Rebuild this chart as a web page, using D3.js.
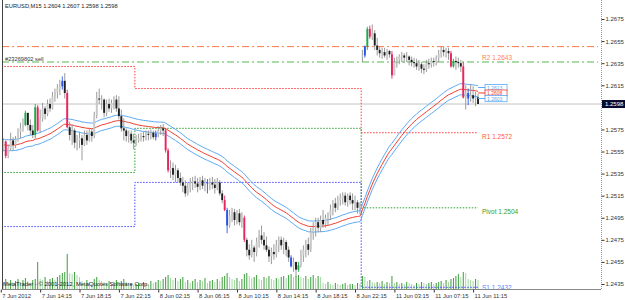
<!DOCTYPE html>
<html><head><meta charset="utf-8">
<script src="https://cdn.jsdelivr.net/npm/d3@7"></script>
<style>html,body{margin:0;padding:0;background:#fff;}svg{display:block;}</style>
</head><body>
<svg id="c" width="625" height="300"></svg>
<script>
(function(){
// ---------- DATA (EURUSD M15) ----------
const firstOpen = 1.2560;
const gapOpens = [[147, 1.2641]];
const closes = [
1.2556,1.2564,1.2551,1.2558,1.2565,1.2561,1.2566,1.2573,1.2576,1.2579,
1.2590,1.2579,1.2574,1.2570,1.2595,1.2574,1.2585,1.2594,1.2589,1.2598,
1.2594,1.2605,1.2609,1.2612,1.2614,1.2619,1.2608,1.2577,1.2570,1.2574,
1.2563,1.2565,1.2567,1.2561,1.2570,1.2565,1.2573,1.2569,1.2588,1.2603,
1.2602,1.2602,1.2590,1.2598,1.2594,1.2599,1.2602,1.2594,1.2587,1.2576,
1.2574,1.2569,1.2571,1.2565,1.2563,1.2565,1.2567,1.2569,1.2568,1.2571,
1.2570,1.2572,1.2568,1.2571,1.2574,1.2576,1.2574,1.2556,1.2538,1.2540,
1.2534,1.2538,1.2531,1.2527,1.2524,1.2517,1.2522,1.2527,1.2528,1.2526,
1.2523,1.2529,1.2524,1.2526,1.2527,1.2527,1.2525,1.2522,1.2527,1.2517,
1.2511,1.2502,1.2488,1.2497,1.2500,1.2493,1.2499,1.2491,1.2495,1.2475,
1.2466,1.2461,1.2468,1.2464,1.2473,1.2479,1.2475,1.2470,1.2466,1.2460,
1.2464,1.2462,1.2470,1.2475,1.2470,1.2473,1.2466,1.2459,1.2451,1.2455,
1.2448,1.2452,1.2461,1.2466,1.2471,1.2466,1.2482,1.2486,1.2491,1.2486,
1.2493,1.2489,1.2495,1.2497,1.2502,1.2508,1.2504,1.2511,1.2513,1.2515,
1.2509,1.2515,1.2511,1.2508,1.2509,1.2504,1.2506,1.2642,1.2650,1.2666,
1.2659,1.2662,1.2651,1.2647,1.2644,1.2645,1.2642,1.2646,1.2643,1.2624,
1.2636,1.2638,1.2641,1.2642,1.2640,1.2641,1.2638,1.2636,1.2635,1.2632,
1.2634,1.2630,1.2629,1.2635,1.2634,1.2637,1.2636,1.2640,1.2643,1.2647,
1.2645,1.2646,1.2644,1.2632,1.2637,1.2636,1.2635,1.2632,1.2604,1.2608,
1.2603,1.2606,1.2603,1.2604,1.2598];
const highs = [
1.2565,1.2567,1.2565,1.2561,1.2572,1.2568,1.2569,1.2576,1.2581,1.2585,
1.2592,1.2588,1.2584,1.2579,1.2598,1.2597,1.2593,1.2599,1.2596,1.2602,
1.2603,1.2609,1.2612,1.2616,1.2620,1.2623,1.2626,1.2611,1.2582,1.2579,
1.2576,1.2570,1.2573,1.2570,1.2574,1.2574,1.2576,1.2576,1.2591,1.2609,
1.2612,1.2606,1.2603,1.2602,1.2603,1.2602,1.2605,1.2606,1.2605,1.2593,
1.2585,1.2576,1.2574,1.2574,1.2571,1.2570,1.2571,1.2572,1.2573,1.2574,
1.2574,1.2575,1.2574,1.2574,1.2578,1.2579,1.2580,1.2576,1.2558,1.2547,
1.2545,1.2543,1.2540,1.2536,1.2532,1.2529,1.2527,1.2531,1.2532,1.2533,
1.2531,1.2532,1.2533,1.2531,1.2530,1.2531,1.2532,1.2530,1.2531,1.2529,
1.2520,1.2515,1.2504,1.2502,1.2504,1.2503,1.2502,1.2503,1.2500,1.2497,
1.2477,1.2471,1.2475,1.2470,1.2477,1.2484,1.2488,1.2482,1.2478,1.2469,
1.2468,1.2471,1.2475,1.2478,1.2478,1.2477,1.2475,1.2469,1.2461,1.2459,
1.2455,1.2455,1.2466,1.2470,1.2475,1.2477,1.2486,1.2491,1.2495,1.2495,
1.2497,1.2502,1.2498,1.2500,1.2507,1.2511,1.2513,1.2515,1.2517,1.2518,
1.2518,1.2517,1.2518,1.2517,1.2515,1.2511,1.2509,1.2647,1.2651,1.2668,
1.2669,1.2670,1.2665,1.2658,1.2650,1.2649,1.2649,1.2648,1.2647,1.2646,
1.2640,1.2641,1.2643,1.2645,1.2644,1.2645,1.2642,1.2641,1.2640,1.2639,
1.2638,1.2636,1.2634,1.2638,1.2639,1.2640,1.2640,1.2642,1.2647,1.2650,
1.2650,1.2649,1.2649,1.2646,1.2639,1.2641,1.2640,1.2638,1.2636,1.2615,
1.2612,1.2616,1.2614,1.2609,1.2607];
const lows = [
1.2552,1.2555,1.2549,1.2549,1.2556,1.2556,1.2558,1.2564,1.2567,1.2573,
1.2578,1.2574,1.2570,1.2567,1.2567,1.2573,1.2572,1.2582,1.2584,1.2587,
1.2591,1.2593,1.2600,1.2603,1.2606,1.2611,1.2603,1.2576,1.2565,1.2561,
1.2558,1.2556,1.2558,1.2547,1.2560,1.2561,1.2564,1.2564,1.2567,1.2585,
1.2598,1.2593,1.2586,1.2587,1.2591,1.2590,1.2593,1.2591,1.2584,1.2573,
1.2565,1.2564,1.2563,1.2562,1.2557,1.2560,1.2563,1.2564,1.2564,1.2565,
1.2565,1.2566,1.2566,1.2565,1.2568,1.2570,1.2569,1.2554,1.2536,1.2531,
1.2529,1.2527,1.2527,1.2524,1.2518,1.2514,1.2515,1.2518,1.2520,1.2522,
1.2518,1.2520,1.2521,1.2519,1.2517,1.2520,1.2521,1.2517,1.2520,1.2515,
1.2508,1.2501,1.2481,1.2486,1.2491,1.2488,1.2489,1.2488,1.2486,1.2473,
1.2460,1.2457,1.2459,1.2455,1.2460,1.2468,1.2471,1.2466,1.2464,1.2455,
1.2453,1.2457,1.2459,1.2464,1.2466,1.2462,1.2460,1.2455,1.2450,1.2446,
1.2441,1.2446,1.2450,1.2455,1.2459,1.2461,1.2464,1.2475,1.2478,1.2482,
1.2482,1.2486,1.2486,1.2488,1.2493,1.2497,1.2500,1.2502,1.2506,1.2507,
1.2506,1.2505,1.2507,1.2502,1.2502,1.2499,1.2498,1.2636,1.2640,1.2647,
1.2657,1.2656,1.2647,1.2642,1.2640,1.2639,1.2640,1.2638,1.2640,1.2621,
1.2627,1.2631,1.2634,1.2636,1.2635,1.2636,1.2633,1.2632,1.2631,1.2629,
1.2628,1.2626,1.2625,1.2627,1.2630,1.2631,1.2632,1.2633,1.2636,1.2640,
1.2641,1.2640,1.2638,1.2631,1.2631,1.2629,1.2631,1.2627,1.2603,1.2593,
1.2597,1.2600,1.2599,1.2596,1.2598];
const volumes = [
160,120,200,140,180,120,160,200,140,180,220,160,120,180,200,
540,200,
180,240,160,200,220,180,240,
280,320,340,700,
320,300,340,280,240,
160,120,180,140,100,200,240,180,160,140,120,160,100,140,180,120,160,200,140,100,120,80,100,120,100,140,120,100,160,120,140,180,160,200,
240,280,220,
180,220,160,200,240,140,180,120,160,200,140,180,160,220,120,160,180,140,200,160,240,260,
320,
240,200,180,220,160,200,300,
320,260,220,240,280,200,180,240,220,260,200,
180,220,200,240,260,220,280,300,240,260,280,
240,220,260,200,240,280,220,260,240,
120,100,140,100,80,120,100,80,100,120,80,100,100,80,120,100,
260,240,
160,180,140,120,140,120,160,100,140,120,
260,
120,140,100,120,100,140,120,100,80,120,100,140,120,100,120,140,100,120,140,160,120,180,140,200,
220,260,300,240,340,320,
200,180,160,200,180];
// highlighted candles (bar index, kind)
const markedBars = [[0,"b"],[2,"r"],[10,"g"],[14,"g"],[15,"r"],[25,"b"],[27,"r"],[63,"b"],[67,"r"],[68,"r"],
  [84,"b"],[91,"r"],[92,"b"],[99,"r"],[118,"b"],[121,"g"],[148,"b"],[149,"g"],[150,"r"],[159,"r"],
  [183,"r"],[184,"g"],[188,"r"],[190,"b"]];
const timeTickBars = [0,16,32,48,64,80,96,112,128,144,160,176,192];
const timeLabels = ["7 Jun 2012","7 Jun 14:15","7 Jun 18:15","7 Jun 22:15","8 Jun 02:15","8 Jun 06:15",
  "8 Jun 10:15","8 Jun 14:15","8 Jun 18:15","8 Jun 22:15","11 Jun 03:15","11 Jun 07:15","11 Jun 11:15"];
const priceTicks = [1.2675,1.2655,1.2635,1.2615,1.2575,1.2555,1.2535,1.2515,1.2495,1.2475,1.2455,1.2435];
const dayStarts = [0,55,147];
const r1Levels = [1.2632,1.2612,1.2572];
const pivotLevels = [1.2536,1.2576,1.2504];
const s1Levels = [1.2487,1.2527,1.2432];
const levelTexts = [["R2",1.2643],["R1",1.2572],["Pivot",1.2504],["S1",1.2432]];
const orderStop = 1.2650, orderOpen = 1.2636;
const orderText = "#23269802 sell";
const maPeriod = 50, maSeed = 1.2561, envPct = 0.04;
const envLabels = [1.2613,1.2608,1.2603];
const bid = 1.2598;
const header = "EURUSD,M15  1.2604 1.2607 1.2598 1.2598";
const footer = "MetaTrader - \u00a9 2001-2012, MetaQuotes Software Corp.";

// ---------- SETUP ----------
const N = closes.length;
const opens = closes.map((c,i)=> i===0 ? firstOpen : closes[i-1]);
gapOpens.forEach(([i,v])=>opens[i]=v);
const svg = d3.select("#c");
const FONT = "'Liberation Sans', Arial, sans-serif";
const pL = 2, pR = 601, pB = 289, pT = 0;
const x = d3.scaleLinear().domain([0, N-1]).range([0.8, 0.8 + (N-1)*2.46]);
const y = d3.scaleLinear().domain([1.2435, 1.2675]).range([284, 19]);
const yv = d3.scaleLinear().domain([0, 1000]).range([pB, pB-50]);

svg.append("defs").append("clipPath").attr("id","clip")
  .append("rect").attr("x",pL).attr("y",pT).attr("width",pR-pL).attr("height",pB-pT+1);
const g = svg.append("g").attr("clip-path","url(#clip)");

// volumes
const volG = g.append("g");
volumes.forEach((v,i)=>{
  const up = i===0 || v >= volumes[i-1];
  volG.append("line").attr("x1",x(i)).attr("x2",x(i)).attr("y1",yv(0)).attr("y2",yv(v))
    .attr("stroke", up ? "#3a9d3a" : "#a3d9a3").attr("stroke-width",1);
});

// bid line
g.append("line").attr("x1",pL).attr("x2",pR).attr("y1",y(bid)).attr("y2",y(bid))
  .attr("stroke","#c4c4c4").attr("stroke-width",1);

// order lines
g.append("line").attr("x1",pL).attr("x2",pR-3).attr("y1",y(orderStop)).attr("y2",y(orderStop))
  .attr("stroke","#ff7a4a").attr("stroke-width",1).attr("stroke-dasharray","7,3,2,3");
g.append("line").attr("x1",pL).attr("x2",pR-3).attr("y1",y(orderOpen)).attr("y2",y(orderOpen))
  .attr("stroke","#8fd18f").attr("stroke-width",1.6).attr("stroke-dasharray","7,3,2,3");

// pivot step lines
function stepPts(levels){
  const pts=[];
  levels.forEach((v,k)=>{
    const b0 = k===0 ? -1 : dayStarts[k]-0.5;
    const b1 = k===levels.length-1 ? N-1 : dayStarts[k+1]-0.5;
    pts.push({b:b0,v:v}); pts.push({b:b1,v:v});
  });
  return pts;
}
const stepLine = d3.line().x(d=>x(d.b)).y(d=>y(d.v));
[[r1Levels,"#ff3b3b"],[pivotLevels,"#2f9f2f"],[s1Levels,"#4848ff"]].forEach(([lv,col])=>{
  g.append("path").attr("d",stepLine(stepPts(lv))).attr("fill","none")
   .attr("stroke",col).attr("stroke-width",1).attr("stroke-dasharray","1.5,1.5");
});

// moving average + envelopes
const ema=[]; closes.forEach((c,i)=>{ ema.push(i===0 ? maSeed : ema[i-1] + (2/(maPeriod+1))*(c-ema[i-1])); });
const upper = ema.map(v=>v*(1+envPct/100)), lower = ema.map(v=>v*(1-envPct/100));
const maLine = d3.line().x((d,i)=>x(i)).y(d=>y(d)).curve(d3.curveMonotoneX);
g.append("path").attr("d",maLine(upper)).attr("fill","none").attr("stroke","#5aaaf5").attr("stroke-width",1);
g.append("path").attr("d",maLine(lower)).attr("fill","none").attr("stroke","#5aaaf5").attr("stroke-width",1);
g.append("path").attr("d",maLine(ema)).attr("fill","none").attr("stroke","#f23d2d").attr("stroke-width",1);

// candles
const markMap = new Map(markedBars);
const markCol = {r:"#e8265e", g:"#22a84a", b:"#2a55e8"};
const cg = g.append("g");
for(let i=0;i<N;i++){
  const o=opens[i], c=closes[i];
  const h=Math.max(highs[i],o,c), l=Math.min(lows[i],o,c);
  const m = markMap.get(i);
  const bull = c>=o;
  cg.append("line").attr("x1",x(i)).attr("x2",x(i)).attr("y1",y(h)).attr("y2",y(l))
    .attr("stroke", m ? markCol[m] : "#8e8e8e").attr("stroke-width",0.9);
  const yt=y(Math.max(o,c)), yb=y(Math.min(o,c));
  cg.append("rect").attr("x",x(i)-0.95).attr("width",1.9).attr("y",yt).attr("height",Math.max(0.8,yb-yt))
    .attr("fill", m ? markCol[m] : (bull ? "#c9c9c9" : "#1e1e1e"));
}

// level labels at the right end of today's lines (S1 sits on the bottom edge, clipped)
const levelCol = {R2:"#ff8356", R1:"#ff5a36", Pivot:"#2f9f2f", S1:"#5a86ff"};
levelTexts.forEach(([name,v])=>{
  const ty = Math.min(y(v)+6, pB+0.5);
  g.append("text").attr("x",x(N-1)+4).attr("y",ty).attr("font-family",FONT).attr("font-size",6.5)
   .attr("fill",levelCol[name]).text(name+" "+v.toFixed(4));
});

// envelope end labels
const lastX = x(N-1);
envLabels.forEach((v,k)=>{
  const col = k===1 ? "#f23d2d" : "#5aaaf5";
  g.append("line").attr("x1",lastX).attr("x2",lastX+7).attr("y1",y(v)).attr("y2",y(v)).attr("stroke",col);
});
envLabels.forEach((v,k)=>{
  const col = k===1 ? "#f23d2d" : "#5aaaf5";
  g.append("rect").attr("x",lastX+7).attr("y",y(v)-3).attr("width",22).attr("height",6.2)
   .attr("fill","#fff").attr("stroke",col).attr("stroke-width",0.8);
  g.append("text").attr("x",lastX+9).attr("y",y(v)+2.2).attr("font-family",FONT).attr("font-size",5)
   .attr("fill",col).text(v.toFixed(4));
});

// frame
svg.append("line").attr("x1",pL+0.5).attr("x2",pL+0.5).attr("y1",0).attr("y2",pB).attr("stroke","#444");
svg.append("line").attr("x1",pL).attr("x2",pR).attr("y1",pB+0.5).attr("y2",pB+0.5).attr("stroke","#888");
svg.append("line").attr("x1",pR+0.5).attr("x2",pR+0.5).attr("y1",0).attr("y2",pB).attr("stroke","#999")
   .attr("stroke-dasharray","1,1");

// right price axis
const ya = svg.append("g").attr("transform",`translate(${pR+0.5},0)`)
  .call(d3.axisRight(y).tickValues(priceTicks).tickSize(3).tickFormat(d3.format(".4f")));
ya.select(".domain").remove();
ya.selectAll("line").attr("stroke","#333");
ya.selectAll("text").attr("font-family",FONT).attr("font-size",6).attr("fill","#333").attr("x",4);

// current bid box
svg.append("rect").attr("x",pR+1).attr("y",y(bid)-4).attr("width",23).attr("height",8).attr("fill","#0a0a30");
svg.append("text").attr("x",pR+4).attr("y",y(bid)+2.2).attr("font-family",FONT).attr("font-size",6)
  .attr("fill","#fff").text(bid.toFixed(4));

// bottom time axis
const xa = svg.append("g").attr("transform",`translate(0,${pB+0.5})`)
  .call(d3.axisBottom(x).tickValues(timeTickBars).tickSize(3).tickFormat((d,i)=>timeLabels[i]));
xa.select(".domain").remove();
xa.selectAll("line").attr("stroke","#333");
xa.selectAll("text").attr("font-family",FONT).attr("font-size",5.8).attr("fill","#333")
  .attr("text-anchor","start").attr("dx",1).attr("y",4);

// texts
svg.append("text").attr("x",5).attr("y",8).attr("font-family",FONT).attr("font-size",5.7).attr("fill","#222").text(header);
svg.append("text").attr("x",5).attr("y",60.5).attr("font-family",FONT).attr("font-size",5.7).attr("fill","#333").text(orderText);
svg.append("text").attr("x",3).attr("y",286).attr("font-family",FONT).attr("font-size",5.9).attr("fill","#222").text(footer);
})();
</script>
</body></html>
